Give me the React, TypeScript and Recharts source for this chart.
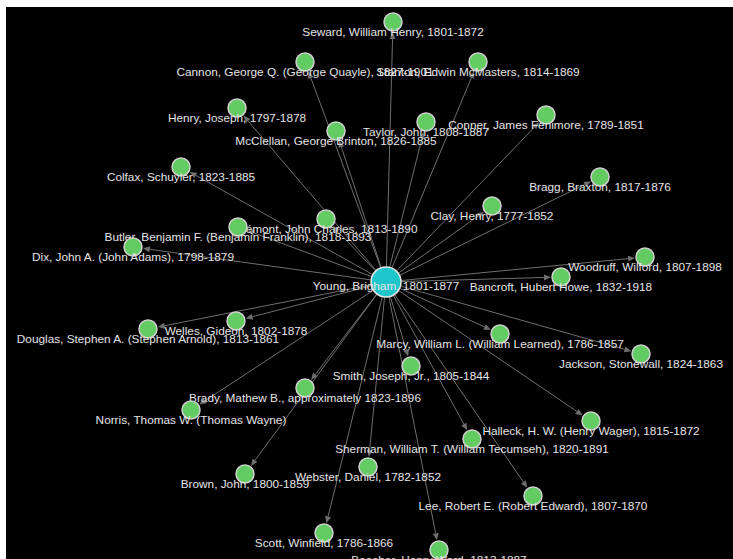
import React from 'react';
import { ScatterChart, Scatter, XAxis, YAxis, ReferenceLine } from 'recharts';

// network layout coordinates (centre node at 0,0, y up)
const centerName = 'Young, Brigham, 1801-1877';
const centerX = 0;
const centerY = 0;

const nodeNames = [
  'Seward, William Henry, 1801-1872',
  'Cannon, George Q. (George Quayle), 1827-1901',
  'Stanton, Edwin McMasters, 1814-1869',
  'Henry, Joseph, 1797-1878',
  'Conner, James Fenimore, 1789-1851',
  'Taylor, John, 1808-1887',
  'McClellan, George Brinton, 1826-1885',
  'Colfax, Schuyler, 1823-1885',
  'Bragg, Braxton, 1817-1876',
  'Clay, Henry, 1777-1852',
  'Frémont, John Charles, 1813-1890',
  'Butler, Benjamin F. (Benjamin Franklin), 1818-1893',
  'Dix, John A. (John Adams), 1798-1879',
  'Woodruff, Wilford, 1807-1898',
  'Bancroft, Hubert Howe, 1832-1918',
  'Welles, Gideon, 1802-1878',
  'Douglas, Stephen A. (Stephen Arnold), 1813-1861',
  'Marcy, William L. (William Learned), 1786-1857',
  'Jackson, Stonewall, 1824-1863',
  'Smith, Joseph, Jr., 1805-1844',
  'Brady, Mathew B., approximately 1823-1896',
  'Norris, Thomas W. (Thomas Wayne)',
  'Halleck, H. W. (Henry Wager), 1815-1872',
  'Sherman, William T. (William Tecumseh), 1820-1891',
  'Webster, Daniel, 1782-1852',
  'Brown, John, 1800-1859',
  'Lee, Robert E. (Robert Edward), 1807-1870',
  'Scott, Winfield, 1786-1866',
  'Beecher, Henry Ward, 1813-1887',
];

const nodeX = [7, -81, 92, -149, 160, 40, -50, -205, 214, 106, -60, -148, -253, 259, 175, -150, -238, 114, 255, 25, -81, -195, 205, 86, -18, -141, 147, -62, 53];
const nodeY = [260, 220, 220, 174, 167, 160, 151, 115, 105, 76, 63, 55, 35, 25, 5, -39, -47, -52, -72, -84, -106, -128, -139, -157, -185, -192, -214, -251, -268];

const centerData = [{ name: centerName, x: centerX, y: centerY }];
const nodeData = nodeNames.map((name, i) => ({ name, x: nodeX[i], y: nodeY[i] }));

const CENTER_R = 15;
const NODE_R = 9;
const EDGE_COLOR = '#6e6e6e';

const Edge = (props: any) => {
  const { x1, y1, x2, y2 } = props;
  const dx = x2 - x1;
  const dy = y2 - y1;
  const len = Math.sqrt(dx * dx + dy * dy) || 1;
  const ux = dx / len;
  const uy = dy / len;
  const sx = x1 + ux * CENTER_R;
  const sy = y1 + uy * CENTER_R;
  const ex = x2 - ux * (NODE_R + 1);
  const ey = y2 - uy * (NODE_R + 1);
  const al = 7;
  const aw = 3;
  const bx = ex - ux * al;
  const by = ey - uy * al;
  const pts = `${ex},${ey} ${bx - uy * aw},${by + ux * aw} ${bx + uy * aw},${by - ux * aw}`;
  return (
    <g>
      <line x1={sx} y1={sy} x2={bx} y2={by} stroke={EDGE_COLOR} strokeWidth={1} />
      <polygon points={pts} fill={EDGE_COLOR} />
    </g>
  );
};

const labelStyle = {
  fontFamily: '"Liberation Sans", Arial, sans-serif',
  fontSize: 11.8,
  fill: '#e4e4e4',
};

const NodeShape = (props: any) => {
  const { cx, cy, payload } = props;
  return (
    <g>
      <circle cx={cx} cy={cy} r={NODE_R} fill="#62cc62" stroke="#cfcfcf" strokeWidth={1.5} />
      <text x={cx} y={cy + 13.5} textAnchor="middle" style={labelStyle}>
        {payload.name}
      </text>
    </g>
  );
};

const CenterShape = (props: any) => {
  const { cx, cy, payload } = props;
  return (
    <g>
      <circle cx={cx} cy={cy} r={CENTER_R} fill="#1fc6cb" stroke="#e6e6e6" strokeWidth={1.5} />
      <text x={cx} y={cy + 8} textAnchor="middle" style={labelStyle}>
        {payload.name}
      </text>
    </g>
  );
};

export default function App() {
  return (
    <div style={{ position: 'fixed', left: 6, top: 7, width: 727, height: 552, background: '#000' }}>
      <ScatterChart width={727} height={552} margin={{ top: 0, right: 0, bottom: 0, left: 0 }}>
        <XAxis type="number" dataKey="x" domain={[-380, 347]} hide allowDataOverflow />
        <YAxis type="number" dataKey="y" domain={[-277, 275]} hide allowDataOverflow />
        {nodeData.map((n, i) => (
          <ReferenceLine
            key={`edge-${i}`}
            segment={[{ x: centerX, y: centerY }, { x: n.x, y: n.y }]}
            ifOverflow="visible"
            shape={(p: any) => <Edge {...p} />}
          />
        ))}
        <Scatter data={nodeData} shape={NodeShape} isAnimationActive={false} />
        <Scatter data={centerData} shape={CenterShape} isAnimationActive={false} />
      </ScatterChart>
    </div>
  );
}
